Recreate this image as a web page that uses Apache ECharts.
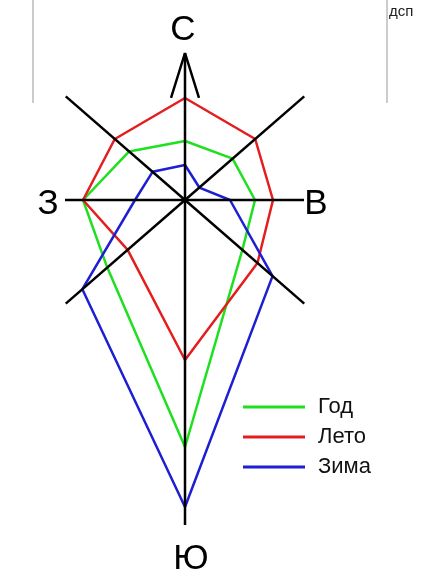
<!DOCTYPE html>
<html lang="ru">

<head>
    <meta charset="UTF-8">
    <title>Роза ветров</title>
    <style>
        html, body { margin: 0; padding: 0; background: #fff; }
        #main { width: 425px; height: 585px; }
    </style>
</head>

<body>
    <div id="main"></div>

    <script src="https://cdn.jsdelivr.net/npm/echarts@6/dist/echarts.min.js"></script>
    <script>
        // румбы: С, СВ, В, ЮВ, Ю, ЮЗ, З, СЗ
        var directions = ['С', 'СВ', 'В', 'ЮВ', 'Ю', 'ЮЗ', 'З', 'СЗ'];
        // угол каждого румба на рисунке (против часовой от востока)
        var angles = [90, 41, 0, 319, 270, 221, 180, 139];
        // длина лучей осей
        var axisLengths = [14.7, 15.8, 11.9, 15.8, 32.5, 15.8, 12.0, 15.8];

        // повторяемость ветра по румбам
        var yearValues = [5.9, 6.3, 7.0, 7.6, 24.7, 10.3, 10.2, 7.4];
        var summerValues = [10.2, 9.3, 8.8, 9.6, 16.0, 7.6, 10.2, 9.3];
        var winterValues = [3.5, 1.9, 4.5, 11.6, 30.7, 13.6, 5.0, 4.3];

        var seriesNames = ['Год', 'Лето', 'Зима'];
        var seriesColors = ['#1ee01e', '#e41e1e', '#1e1ed2'];

        function rose(values) {
            var pts = values.map(function (v, i) { return [v, angles[i]]; });
            pts.push(pts[0]);
            return pts;
        }

        var chart = echarts.init(document.getElementById('main'));

        var series = [yearValues, summerValues, winterValues].map(function (vals, k) {
            return {
                name: seriesNames[k],
                type: 'line',
                coordinateSystem: 'polar',
                data: rose(vals),
                symbol: 'none',
                lineStyle: { color: seriesColors[k], width: 2.5 },
                itemStyle: { color: seriesColors[k] },
                z: 2
            };
        });

        // оси румбов
        directions.forEach(function (d, i) {
            series.push({
                type: 'line',
                coordinateSystem: 'polar',
                data: [[0, angles[i]], [axisLengths[i], angles[i]]],
                symbol: 'none',
                silent: true,
                lineStyle: { color: '#000', width: 2.5 },
                z: 3
            });
        });

        // стрелка на север
        series.push({
            type: 'line',
            coordinateSystem: 'polar',
            data: [[10.3, 97.8], [14.7, 90], [10.3, 82.2]],
            symbol: 'none',
            silent: true,
            lineStyle: { color: '#000', width: 2.5 },
            z: 3
        });

        var option = {
            animation: false,
            backgroundColor: '#fff',
            polar: {
                center: [185, 200],
                radius: 360
            },
            angleAxis: {
                type: 'value',
                min: 0,
                max: 360,
                startAngle: 0,
                clockwise: false,
                show: false
            },
            radiusAxis: {
                type: 'value',
                min: 0,
                max: 36,
                show: false
            },
            legend: {
                data: seriesNames,
                orient: 'vertical',
                left: 243,
                top: 396,
                padding: 0,
                icon: 'rect',
                itemWidth: 62,
                itemHeight: 3,
                itemGap: 8,
                textStyle: {
                    fontFamily: 'Liberation Sans, Arial, sans-serif',
                    fontSize: 22,
                    lineHeight: 22,
                    color: '#111',
                    padding: [0, 0, 0, 8]
                }
            },
            graphic: [
                { type: 'line', shape: { x1: 33, y1: 0, x2: 33, y2: 103 }, style: { stroke: '#bbb', lineWidth: 1.5 } },
                { type: 'line', shape: { x1: 387, y1: 0, x2: 387, y2: 103 }, style: { stroke: '#bbb', lineWidth: 1.5 } },
                { type: 'text', left: 389, top: 4, style: { text: 'дсп', font: '15px Liberation Sans, Arial, sans-serif', fill: '#222' } },
                { type: 'text', x: 183, y: 30, style: { text: 'С', font: '35px Liberation Sans, Arial, sans-serif', fill: '#000', textAlign: 'center', textVerticalAlign: 'middle' } },
                { type: 'text', x: 48, y: 204, style: { text: 'З', font: '35px Liberation Sans, Arial, sans-serif', fill: '#000', textAlign: 'center', textVerticalAlign: 'middle' } },
                { type: 'text', x: 316, y: 204, style: { text: 'В', font: '35px Liberation Sans, Arial, sans-serif', fill: '#000', textAlign: 'center', textVerticalAlign: 'middle' } },
                { type: 'text', x: 191, y: 559, style: { text: 'Ю', font: '35px Liberation Sans, Arial, sans-serif', fill: '#000', textAlign: 'center', textVerticalAlign: 'middle' } }
            ],
            series: series
        };

        chart.setOption(option);
    </script>
</body>

</html>
